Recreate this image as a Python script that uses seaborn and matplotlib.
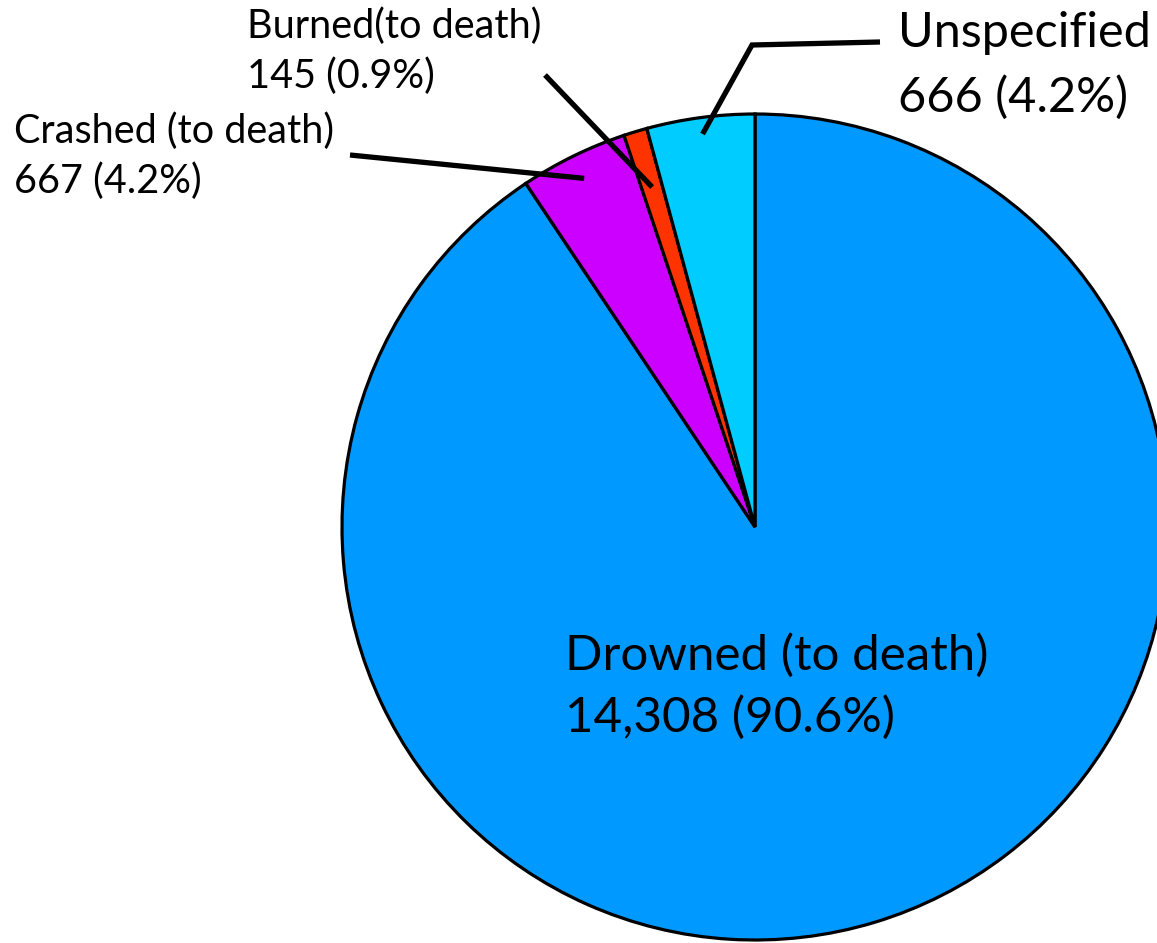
import numpy as np
import matplotlib
matplotlib.use("Agg")
import matplotlib.pyplot as plt
import seaborn as sns

# Causes of death and counts
labels = ["Drowned (to death)", "Crashed (to death)", "Burned(to death)", "Unspecified"]
counts = [14308, 667, 145, 666]
colors = ["#0099FF", "#CC00FF", "#FF3300", "#00CCFF"]

sns.set_theme(style="white")
plt.rcParams['font.family'] = ['Lato', 'DejaVu Sans']

W, H = 1157, 943
fig = plt.figure(figsize=(W / 100, H / 100), dpi=100)
ax = fig.add_axes([0, 0, 1, 1])
ax.set_xlim(0, W)
ax.set_ylim(0, H)
ax.set_aspect('equal')
ax.axis('off')

cx, cy, R = 755, H - 527, 413
wedges, _ = ax.pie(counts, colors=colors, startangle=90, counterclock=False,
                   center=(cx, cy), radius=R,
                   wedgeprops=dict(edgecolor='black', linewidth=2.3))
ax.set_xlim(0, W)
ax.set_ylim(0, H)

total = sum(counts)
pct = [c / total * 100 for c in counts]
texts = [f"{c:,} ({p:.1f}%)" for c, p in zip(counts, pct)]

def mid_point(w, frac):
    a = np.deg2rad((w.theta1 + w.theta2) / 2)
    return cx + frac * R * np.cos(a), cy + frac * R * np.sin(a)

lw = 3.8
# Crashed leader
x0, y0 = mid_point(wedges[1], 0.94)
ax.plot([x0, 350], [y0, H - 155], color='black', lw=lw, solid_capstyle='butt')
# Burned leader
x0, y0 = mid_point(wedges[2], 0.86)
ax.plot([x0, 545], [y0, H - 75], color='black', lw=lw, solid_capstyle='butt')
# Unspecified leader (bent)
x0, y0 = mid_point(wedges[3], 0.96)
ax.plot([x0, 752, 880], [y0, H - 45, H - 42], color='black', lw=lw,
        solid_capstyle='butt', solid_joinstyle='miter')

# label layout: (x, baseline1, baseline2, fontsize)
layout = {
    0: (565, 670, 732, 35.5),
    1: (14, 143, 193, 28.5),
    2: (247, 38, 88, 28.5),
    3: (898, 47, 112, 35),
}
for i, (x, b1, b2, fs) in layout.items():
    ax.text(x, H - b1, labels[i], fontsize=fs, va='baseline', ha='left', color='black')
    ax.text(x, H - b2, texts[i], fontsize=fs, va='baseline', ha='left', color='black')

fig.savefig("out.png", dpi=100, facecolor='white')
